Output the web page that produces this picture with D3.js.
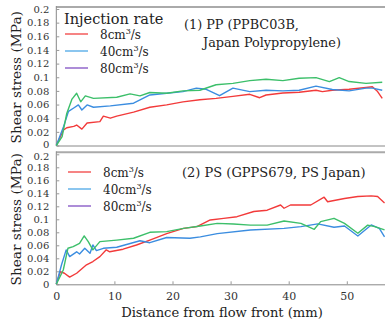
<!DOCTYPE html>
<html>
<head>
<meta charset="utf-8">
<script src="https://cdn.jsdelivr.net/npm/d3@7"></script>
<style>
  body { margin: 0; background: #fff; }
</style>
</head>
<body>
<div id="chart"></div>
<script>
// DATA (distance mm, shear stress MPa)
const rates = ["8", "40", "80"];
const lineColors = ["#f23a3a", "#3b8de0", "#3cbf6a"];
const legendColors = ["#f25050", "#5aaee8", "#8a5cc8"];

const ppRate8 = [[0,0],[1.26,0.023],[1.8,0.026],[3,0.028],[3.5,0.030],[4.4,0.024],[5.3,0.033],[7.5,0.035],[8.1,0.043],[9.3,0.040],[10.4,0.043],[13.3,0.049],[16.1,0.056],[19,0.0595],[21.8,0.064],[24.7,0.067],[27.5,0.069],[30.4,0.072],[33.3,0.075],[35,0.070],[36.1,0.074],[39,0.077],[41.8,0.078],[44.7,0.081],[45.8,0.079],[47.5,0.081],[50.4,0.0824],[53.3,0.085],[54.4,0.086],[55.3,0.079],[56.1,0.069]];
const ppRate40 = [[0,0],[1.26,0.028],[2.1,0.05],[3,0.055],[3.8,0.0595],[4.4,0.052],[5.3,0.0595],[6.4,0.056],[9.3,0.058],[13.3,0.062],[16.1,0.074],[19,0.0766],[21.8,0.079],[24.1,0.084],[25.8,0.0824],[28.1,0.073],[30.4,0.084],[33.3,0.079],[36.1,0.081],[39,0.080],[41.8,0.081],[44.7,0.087],[47.5,0.082],[50.4,0.080],[53.3,0.084],[54.4,0.084],[56.1,0.081]];
const ppRate80 = [[0,0],[1,0.013],[1.8,0.047],[2.7,0.068],[3.5,0.0766],[4.2,0.064],[5,0.0727],[6.4,0.069],[10.4,0.0707],[12.7,0.0756],[14.4,0.0727],[16.1,0.0776],[19,0.0766],[21.8,0.080],[24.7,0.081],[27.5,0.089],[30.4,0.091],[33.3,0.095],[36.1,0.097],[39,0.095],[41.8,0.0985],[44.7,0.0995],[47,0.0937],[48.7,0.0995],[50.4,0.0937],[53.3,0.091],[56.1,0.0927]];

const psRate8 = [[0,0],[0.7,0.0195],[1.4,0.017],[2.3,0.011],[3.5,0.017],[5.2,0.030],[6.3,0.035],[7.5,0.0426],[8.6,0.053],[9.2,0.050],[11.5,0.054],[13.8,0.0605],[16.1,0.068],[19,0.078],[21.9,0.086],[24.2,0.0887],[26.5,0.099],[28.8,0.1015],[31.1,0.104],[34,0.112],[36.3,0.114],[38.6,0.122],[39.2,0.117],[40.3,0.122],[43.8,0.122],[46.1,0.134],[46.7,0.127],[49.6,0.132],[51.9,0.135],[54.2,0.136],[55.3,0.135],[56.5,0.125]];
const psRate40 = [[0,0],[0.9,0.030],[1.7,0.053],[2.3,0.0426],[3.5,0.050],[4,0.0467],[4.9,0.0554],[5.8,0.0477],[6.3,0.0605],[6.9,0.0518],[8.1,0.0554],[10.4,0.057],[14.4,0.067],[16.1,0.064],[19,0.072],[23,0.0708],[24.8,0.073],[27.7,0.078],[33.4,0.0836],[39.2,0.086],[42.1,0.0887],[45,0.093],[47.8,0.0877],[49.6,0.0897],[51.9,0.0744],[54.2,0.0913],[55.6,0.086],[56.5,0.073]];
const psRate80 = [[0,0],[1.2,0.022],[2,0.0554],[2.9,0.058],[4,0.063],[4.8,0.0744],[5.5,0.0656],[6.3,0.053],[7.5,0.0656],[10.4,0.068],[13.3,0.0708],[16.1,0.080],[19,0.081],[21.9,0.086],[24.8,0.0897],[27.7,0.0938],[30.5,0.0928],[33.4,0.091],[36.3,0.091],[39.2,0.0974],[42.1,0.0938],[44.4,0.0846],[45.5,0.0964],[47.8,0.1015],[49.6,0.0938],[51.9,0.0785],[53.6,0.091],[54.8,0.0887],[56.5,0.0836]];

const yTicks = [0, 0.02, 0.04, 0.06, 0.08, 0.1, 0.12, 0.14, 0.16, 0.18, 0.2];
const xTicks = [0, 10, 20, 30, 40, 50];

const panels = [
    { series: [ppRate8, ppRate40, ppRate80], title: ["(1) PP (PPBC03B,", "Japan Polypropylene)"], top: 9, bottom: 145.5, xLabels: false, legendTitle: "Injection rate" },
    { series: [psRate8, psRate40, psRate80], title: ["(2) PS (GPPS679, PS Japan)"], top: 154.3, bottom: 284.3, xLabels: true, legendTitle: null }
];

const FONT = "'DejaVu Serif', serif";
const W = 385, H = 320;
const svg = d3.select("#chart").append("svg")
    .attr("width", W)
    .attr("height", H)
    .attr("font-family", FONT);

const x = d3.scaleLinear().domain([0, 60]).range([56.3, 56.3 + 5.81 * 60]);

panels.forEach((p, pi) => {
    const y = d3.scaleLinear().domain([0, 0.2]).range([p.bottom, p.top]);
    const g = svg.append("g");

    // frame top
    g.append("line")
        .attr("x1", x(0)).attr("x2", W)
        .attr("y1", p.top - 2).attr("y2", p.top - 2)
        .attr("stroke", "#aaa").attr("stroke-width", 2);

    // Y AXIS
    const ya = g.append("g")
        .attr("transform", `translate(${x(0)},0)`)
        .call(d3.axisLeft(y).tickValues(yTicks).tickSize(-3).tickSizeOuter(0)
            .tickFormat(d => String(+d.toFixed(2))));
    ya.attr("font-family", FONT);
    ya.select(".domain").attr("stroke", "#888").attr("d", `M0,${p.top - 3}V${p.bottom}`);
    ya.selectAll(".tick line").attr("stroke", "#999");
    ya.selectAll(".tick text").attr("x", -7).attr("fill", "#333")
        .attr("font-size", "10px")
        // keep the "0" / "0.2" labels at the panel seam apart
        .attr("y", d => (pi === 0 && d === 0) ? -1.5 : (pi === 1 && d === 0.2) ? 1.5 : 0);

    // X AXIS
    const xa = g.append("g")
        .attr("transform", `translate(0,${p.bottom})`)
        .call(d3.axisBottom(x).tickValues(p.xLabels ? xTicks : []).tickSize(-3).tickSizeOuter(0));
    xa.attr("font-family", FONT);
    xa.select(".domain").attr("stroke", "#888");
    xa.selectAll(".tick line").attr("stroke", "#999");
    xa.selectAll(".tick text").attr("y", 8).attr("fill", "#333")
        .attr("font-size", "11px");

    // Y TITLE
    g.append("text")
        .attr("transform", `translate(21,${(p.top + p.bottom) / 2}) rotate(-90)`)
        .attr("text-anchor", "middle")
        .attr("font-size", "13.7px")
        .attr("fill", "#222")
        .text("Shear stress (MPa)");

    // LINES
    const line = d3.line().x(d => x(d[0])).y(d => y(d[1]));
    p.series.forEach((s, i) => {
        g.append("path")
            .datum(s)
            .attr("fill", "none")
            .attr("stroke", lineColors[i])
            .attr("stroke-width", 1.4)
            .attr("stroke-linejoin", "round")
            .attr("d", line);
    });

    // PANEL TITLE
    p.title.forEach((t, i) => {
        g.append("text")
            .attr("x", pi === 0 ? (i === 0 ? 184 : 203) : 182)
            .attr("y", (pi === 0 ? 29 : 177) + i * 18)
            .attr("font-size", pi === 0 ? "12.8px" : "13px")
            .attr("fill", "#222")
            .text(t);
    });

    // LEGEND
    const ly0 = pi === 0 ? 34 : 172;
    const lx0 = pi === 0 ? 65 : 68;
    if (p.legendTitle) {
        g.append("text")
            .attr("x", 64).attr("y", 24)
            .attr("font-size", "14.5px")
            .attr("fill", "#222")
            .text(p.legendTitle);
    }
    const legend = g.selectAll(".legend")
        .data(rates)
        .enter()
        .append("g")
        .attr("transform", (d, i) => `translate(${lx0},${ly0 + i * 17})`);
    legend.append("line")
        .attr("x1", 0).attr("x2", 23)
        .attr("stroke", (d, i) => legendColors[i])
        .attr("stroke-width", 1.4);
    const lt = legend.append("text")
        .attr("x", 35)
        .attr("y", 4.5)
        .attr("font-size", "12px")
        .attr("fill", "#222");
    lt.append("tspan").text(d => d + "cm");
    lt.append("tspan").attr("font-size", "8px").attr("dy", -5).text("3");
    lt.append("tspan").attr("dy", 5).text("/s");
});

// X TITLE
svg.append("text")
    .attr("x", 222)
    .attr("y", 317)
    .attr("text-anchor", "middle")
    .attr("font-size", "13.1px")
    .attr("fill", "#222")
    .text("Distance from flow front (mm)");
</script>
</body>
</html>
